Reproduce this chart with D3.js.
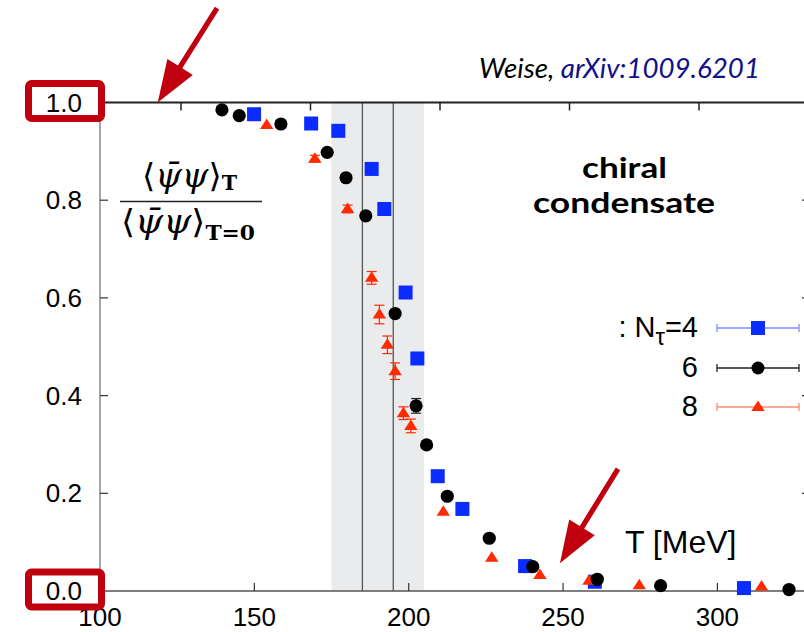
<!DOCTYPE html>
<html><head><meta charset="utf-8">
<script src="https://cdn.jsdelivr.net/npm/d3@7"></script>
<style>body{margin:0;background:#fff}svg{display:block}</style>
</head><body>
<svg id="c" width="804" height="632"></svg>
<script>
// ---- data ----
const xTicks = [100, 150, 200, 250, 300];
const yTicks = [0, 0.2, 0.4, 0.6, 0.8, 1.0];
const yTickLabels = ["0.0", "0.2", "0.4", "0.6", "0.8", "1.0"];
const topTicks = [1, 2, 3, 4, 5];

// N_tau = 4 (blue squares)
const t4 = [149.9, 168.4, 177.2, 188.0, 192.1, 199.0, 202.8, 209.4, 217.4, 237.7, 260.3, 308.6];
const v4 = [0.976, 0.957, 0.942, 0.864, 0.782, 0.611, 0.476, 0.235, 0.168, 0.051, 0.019, 0.006];
// N_tau = 6 (black circles)
const t6 = [139.5, 145.1, 158.6, 173.6, 179.7, 186.1, 195.6, 202.4, 205.8, 212.5, 226.1, 240.2, 261.1, 281.6, 323.2];
const v6 = [0.985, 0.973, 0.956, 0.898, 0.846, 0.768, 0.568, 0.379, 0.299, 0.194, 0.108, 0.050, 0.024, 0.011, 0.003];
const e6 = [0, 0, 0, 0, 0, 0, 0, 0.015, 0, 0, 0, 0, 0, 0, 0];
// N_tau = 8 (red triangles)
const t8 = [154.0, 169.6, 180.2, 188.0, 190.5, 193.1, 195.6, 198.3, 200.7, 211.2, 226.9, 242.5, 258.4, 274.7, 314.3];
const v8 = [0.954, 0.885, 0.782, 0.641, 0.566, 0.504, 0.450, 0.364, 0.338, 0.162, 0.068, 0.033, 0.021, 0.012, 0.009];
const e8 = [0, 0.007, 0.008, 0.013, 0.019, 0.018, 0.017, 0.013, 0.014, 0, 0, 0, 0, 0, 0];

const band = [175, 205];
const tcLines = [185, 195];

const legendLabels = ["4", "6", "8"];
// annotation arrows in data coords: [tailT, tailV, tipT, tipV]
const arrows = [[137.9, 1.193, 118.7, 1.0], [267.8, 0.250, 249.0, 0.057]];
const boxedTicks = [1.0, 0.0];

// ---- layout ----
const svg = d3.select("#c");
const L = 100, R = 810, T = 102.5, B = 591;
const x = d3.scaleLinear().domain([100, 100 + (R - L) / 3.087]).range([L, R]);
const y = d3.scaleLinear().domain([0, 1]).range([B, T]);
const xTop = d3.scaleLinear().domain([1, 5]).range([181, 699]);

const red = "#c0000f";
const blue = "#0b2cff", black = "#000", orange = "#ff2a00";

// band
svg.append("rect").attr("x", x(band[0])).attr("y", T).attr("width", x(band[1]) - x(band[0]))
  .attr("height", B - T).attr("fill", "#eaebed");
svg.selectAll(".tc").data(tcLines).join("line")
  .attr("x1", d => x(d)).attr("x2", d => x(d)).attr("y1", T).attr("y2", B)
  .attr("stroke", "#555").attr("stroke-width", 1.3);

// frame
svg.append("line").attr("x1", L).attr("x2", R).attr("y1", T).attr("y2", T).attr("stroke", "#222").attr("stroke-width", 2);
svg.append("line").attr("x1", L).attr("x2", R).attr("y1", B).attr("y2", B).attr("stroke", "#555").attr("stroke-width", 1.3);
svg.append("line").attr("x1", L).attr("x2", L).attr("y1", T).attr("y2", B).attr("stroke", "#777").attr("stroke-width", 1.3);
svg.append("line").attr("x1", R).attr("x2", R).attr("y1", T).attr("y2", B).attr("stroke", "#555").attr("stroke-width", 1.3);

// bottom ticks
svg.selectAll(".xt").data(xTicks.slice(1)).join("line")
  .attr("x1", d => x(d)).attr("x2", d => x(d)).attr("y1", B).attr("y2", B - 8)
  .attr("stroke", "#333").attr("stroke-width", 1.2);
svg.selectAll(".xl").data(xTicks).join("text")
  .attr("x", d => x(d)).attr("y", 626).attr("text-anchor", "middle")
  .attr("font-family", "Liberation Sans, Arial, sans-serif").attr("font-size", 26)
  .text(d => d);
// top ticks
svg.selectAll(".tt").data(topTicks).join("line")
  .attr("x1", d => xTop(d)).attr("x2", d => xTop(d)).attr("y1", T).attr("y2", T + 8)
  .attr("stroke", "#222").attr("stroke-width", 1.5);
// y ticks
svg.selectAll(".yt").data(yTicks.filter(d => d > 0 && d < 1)).join("line")
  .attr("x1", L).attr("x2", L + 8).attr("y1", d => y(d)).attr("y2", d => y(d))
  .attr("stroke", "#333").attr("stroke-width", 1.2);
svg.selectAll(".yr").data(yTicks.filter(d => d > 0 && d < 1)).join("line")
  .attr("x1", R).attr("x2", R - 8).attr("y1", d => y(d)).attr("y2", d => y(d))
  .attr("stroke", "#333").attr("stroke-width", 1.2);
svg.selectAll(".yl").data(yTicks).join("text")
  .attr("x", 82).attr("y", d => y(d) + 9).attr("text-anchor", "end")
  .attr("font-family", "Liberation Sans, Arial, sans-serif").attr("font-size", 26)
  .text((d, i) => yTickLabels[i]);

// red boxes
svg.selectAll(".box").data(boxedTicks).join("rect")
  .attr("x", 28.5).attr("y", d => y(d) - 19).attr("width", 73).attr("height", 35)
  .attr("rx", 3).attr("fill", "none").attr("stroke", red).attr("stroke-width", 7);

// error bars
function errBars(ts, vs, es, col) {
  const idx = d3.range(ts.length).filter(i => es[i] > 0);
  const g = svg.append("g").attr("stroke", col).attr("stroke-width", 1.2);
  idx.forEach(i => {
    const cx = x(ts[i]), y1 = y(vs[i] - es[i]), y2 = y(vs[i] + es[i]);
    g.append("line").attr("x1", cx).attr("x2", cx).attr("y1", y1).attr("y2", y2);
    g.append("line").attr("x1", cx - 5).attr("x2", cx + 5).attr("y1", y1).attr("y2", y1);
    g.append("line").attr("x1", cx - 5).attr("x2", cx + 5).attr("y1", y2).attr("y2", y2);
  });
}
errBars(t8, v8, e8, orange);
errBars(t6, v6, e6, "#222");

const tri = "M0,-6.5L6.7,4L-6.7,4Z";
// markers
svg.append("g").selectAll("rect").data(d3.range(t4.length)).join("rect")
  .attr("x", i => x(t4[i]) - 7).attr("y", i => y(v4[i]) - 7).attr("width", 14).attr("height", 14)
  .attr("fill", blue);
svg.append("g").selectAll("path").data(d3.range(t8.length)).join("path")
  .attr("transform", i => `translate(${x(t8[i])},${y(v8[i])})`).attr("d", tri).attr("fill", orange);
svg.append("g").selectAll("circle").data(d3.range(t6.length)).join("circle")
  .attr("cx", i => x(t6[i])).attr("cy", i => y(v6[i])).attr("r", 6.6).attr("fill", black);

// legend
const legY = [328, 368, 407];
const legCols = [["#7f8fff", blue], ["#222", black], ["#ff8a78", orange]];
legendLabels.forEach((lab, i) => {
  const g = svg.append("g");
  const [lc, mc] = legCols[i];
  g.append("line").attr("x1", 717).attr("x2", 799).attr("y1", legY[i]).attr("y2", legY[i]).attr("stroke", lc).attr("stroke-width", 1.3);
  [717, 799].forEach(xx => g.append("line").attr("x1", xx).attr("x2", xx).attr("y1", legY[i] - 4).attr("y2", legY[i] + 4).attr("stroke", lc).attr("stroke-width", 1.3));
  if (i === 0) g.append("rect").attr("x", 751).attr("y", legY[i] - 7).attr("width", 14).attr("height", 14).attr("fill", mc);
  if (i === 1) g.append("circle").attr("cx", 758).attr("cy", legY[i]).attr("r", 6.5).attr("fill", mc);
  if (i === 2) g.append("path").attr("transform", `translate(758,${legY[i]})`).attr("d", tri).attr("fill", mc);
  const t = g.append("text").attr("x", 698).attr("y", legY[i] + 9).attr("text-anchor", "end")
    .attr("font-family", "Liberation Sans, Arial, sans-serif").attr("font-size", 29);
  if (i === 0) {
    t.append("tspan").text(": N");
    t.append("tspan").attr("font-size", 24).attr("dy", 8).text("τ");
    t.append("tspan").attr("dy", -8).text("=" + lab);
  } else t.text(lab);
});

// arrows
arrows.forEach(a => {
  const x0 = x(a[0]), y0 = y(a[1]), x1 = x(a[2]), y1 = y(a[3]);
  const dx = x1 - x0, dy = y1 - y0, len = Math.hypot(dx, dy);
  const ux = dx / len, uy = dy / len, px = -uy, py = ux;
  const hl = 42, hw = 15, sw = 2.6;
  const bx = x1 - ux * hl, by = y1 - uy * hl;
  const pts = [
    [x0 + px * sw, y0 + py * sw], [bx + px * sw, by + py * sw], [bx + px * hw, by + py * hw],
    [x1, y1], [bx - px * hw, by - py * hw], [bx - px * sw, by - py * sw], [x0 - px * sw, y0 - py * sw]];
  svg.append("path").attr("d", "M" + pts.map(p => p.join(",")).join("L") + "Z").attr("fill", red);
});

// texts
const cite = svg.append("text").attr("x", 760).attr("y", 78).attr("text-anchor", "end")
  .attr("font-family", "Lato, sans-serif").attr("font-style", "italic").attr("font-size", 27.7);
cite.append("tspan").attr("fill", "#000").text("Weise, ");
cite.append("tspan").attr("fill", "#10108a").text("arXiv:1009.6201");

svg.append("text").attr("x", 582).attr("y", 178)
  .attr("font-family", "Lato, sans-serif").attr("font-weight", "bold").attr("font-size", 29)
  .attr("textLength", 85).attr("lengthAdjust", "spacingAndGlyphs").text("chiral");
svg.append("text").attr("x", 533).attr("y", 213)
  .attr("font-family", "Lato, sans-serif").attr("font-weight", "bold").attr("font-size", 29)
  .attr("textLength", 182).attr("lengthAdjust", "spacingAndGlyphs").text("condensate");

svg.append("text").attr("x", 625).attr("y", 553).attr("font-family", "Liberation Sans, Arial, sans-serif")
  .attr("font-size", 32).text("T [MeV]");

// fraction
const serif = "DejaVu Serif, Liberation Serif, serif";
function frac(x0, yb, sub, dy, w) {
  const t = svg.append("text").attr("x", x0).attr("y", yb)
    .attr("font-family", serif).attr("font-size", 33)
    .attr("textLength", w).attr("lengthAdjust", "spacingAndGlyphs");
  t.append("tspan").text("⟨");
  t.append("tspan").attr("font-style", "italic").text("ψ\u0304ψ");
  t.append("tspan").text("⟩");
  t.append("tspan").attr("font-weight", "bold").attr("font-size", 20).attr("dy", dy).text(sub);
}
frac(142, 187, "T", 3, 95);
svg.append("line").attr("x1", 120).attr("x2", 262).attr("y1", 201.5).attr("y2", 201.5).attr("stroke", "#222").attr("stroke-width", 1.6);
frac(121, 233, "T=0", 7, 134);
</script>
</body></html>
